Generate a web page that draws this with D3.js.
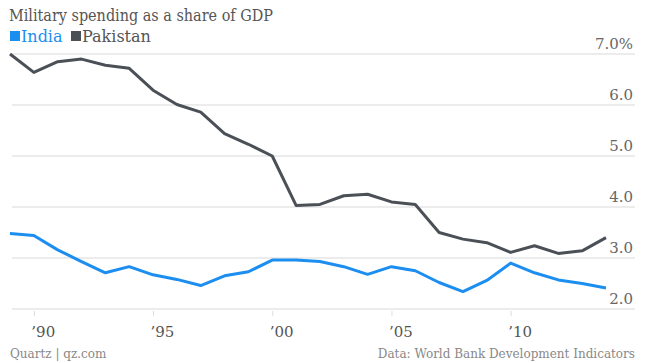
<!DOCTYPE html>
<html>
<head>
<meta charset="utf-8">
<script src="https://cdn.jsdelivr.net/npm/d3@7"></script>
<style>
  body { margin: 0; background: #fff; }
  text { font-family: "DejaVu Serif", serif; }
  .title { font-family: "DejaVu Serif Condensed", "DejaVu Serif", serif; font-stretch: condensed; }
</style>
</head>
<body>
<div id="chart"></div>
<script>
var years = d3.range(1989, 2015);
var india = [3.48, 3.44, 3.16, 2.93, 2.71, 2.83, 2.67, 2.58, 2.46, 2.65, 2.73, 2.96, 2.96,
             2.93, 2.83, 2.68, 2.83, 2.75, 2.52, 2.34, 2.56, 2.90, 2.71, 2.57, 2.50, 2.41];
var pakistan = [7.00, 6.64, 6.85, 6.90, 6.78, 6.72, 6.29, 6.01, 5.86, 5.44, 5.23, 5.00, 4.03,
                4.05, 4.22, 4.25, 4.10, 4.05, 3.50, 3.37, 3.30, 3.11, 3.24, 3.09, 3.14, 3.40];
var yTicks = [2, 3, 4, 5, 6, 7];
var xTicks = [1990, 1995, 2000, 2005, 2010];

var fullWidth = 645, fullHeight = 363;
var blue = "#1c8ef0", grey = "#4b5057";

var svg = d3.select("#chart").append("svg")
  .attr("width", fullWidth)
  .attr("height", fullHeight);

var xScale = d3.scaleLinear().domain([1989, 2014]).range([10, 606]);
var yScale = d3.scaleLinear().domain([2, 7]).range([309, 54]);

// gridlines + labels on the right
var grid = svg.append("g");
grid.selectAll("line").data(yTicks).enter().append("line")
  .attr("x1", 12).attr("x2", 635)
  .attr("y1", function(d) { return yScale(d); })
  .attr("y2", function(d) { return yScale(d); })
  .attr("stroke", "#e6e6e6").attr("stroke-width", 1.5);
grid.selectAll("text").data(yTicks).enter().append("text")
  .attr("x", 633)
  .attr("y", function(d) { return yScale(d) - 5; })
  .attr("text-anchor", "end")
  .attr("font-size", 15)
  .attr("fill", "#666")
  .text(function(d) { return d == 7 ? d.toFixed(1) + "%" : d.toFixed(1); });

// x axis
var xAxis = d3.axisBottom(xScale).tickValues(xTicks).tickSize(5).tickPadding(10)
  .tickFormat(function(d) { return "\u2019" + String(d).slice(2); });
var gx = svg.append("g").attr("transform", "translate(0,311)").call(xAxis);
gx.select(".domain").remove();
gx.selectAll(".tick line").attr("stroke", "#ddd");
gx.selectAll(".tick text")
  .attr("font-family", "DejaVu Serif, serif")
  .attr("font-size", 15)
  .attr("fill", "#555")
  .attr("text-anchor", "start")
  .attr("dx", -3);

// lines
var line = d3.line()
  .x(function(d, i) { return xScale(years[i]); })
  .y(function(d) { return yScale(d); });

svg.append("path").datum(pakistan)
  .attr("d", line).attr("fill", "none")
  .attr("stroke", grey).attr("stroke-width", 3).attr("stroke-linejoin", "round");
svg.append("path").datum(india)
  .attr("d", line).attr("fill", "none")
  .attr("stroke", blue).attr("stroke-width", 3).attr("stroke-linejoin", "round");

// title
svg.append("text").attr("class", "title").attr("x", 9).attr("y", 21)
  .attr("font-size", 16).attr("fill", "#555")
  .text("Military spending as a share of GDP");

// legend
var legend = [{name: "India", color: blue, x: 10}, {name: "Pakistan", color: grey, x: 71}];
var lg = svg.selectAll(".lg").data(legend).enter().append("g").attr("class", "lg");
lg.append("rect")
  .attr("x", function(d) { return d.x; }).attr("y", 31)
  .attr("width", 10).attr("height", 10)
  .attr("fill", function(d) { return d.color; });
lg.append("text")
  .attr("x", function(d) { return d.x + 11; }).attr("y", 42)
  .attr("font-size", 16)
  .attr("fill", function(d) { return d.name == "India" ? blue : "#555"; })
  .text(function(d) { return d.name; });

// footer
svg.append("text").attr("x", 10).attr("y", 358)
  .attr("font-size", 12).attr("fill", "#888")
  .text("Quartz | qz.com");
svg.append("text").attr("x", 635).attr("y", 358)
  .attr("text-anchor", "end")
  .attr("font-size", 12).attr("fill", "#888")
  .text("Data: World Bank Development Indicators");
</script>
</body>
</html>
